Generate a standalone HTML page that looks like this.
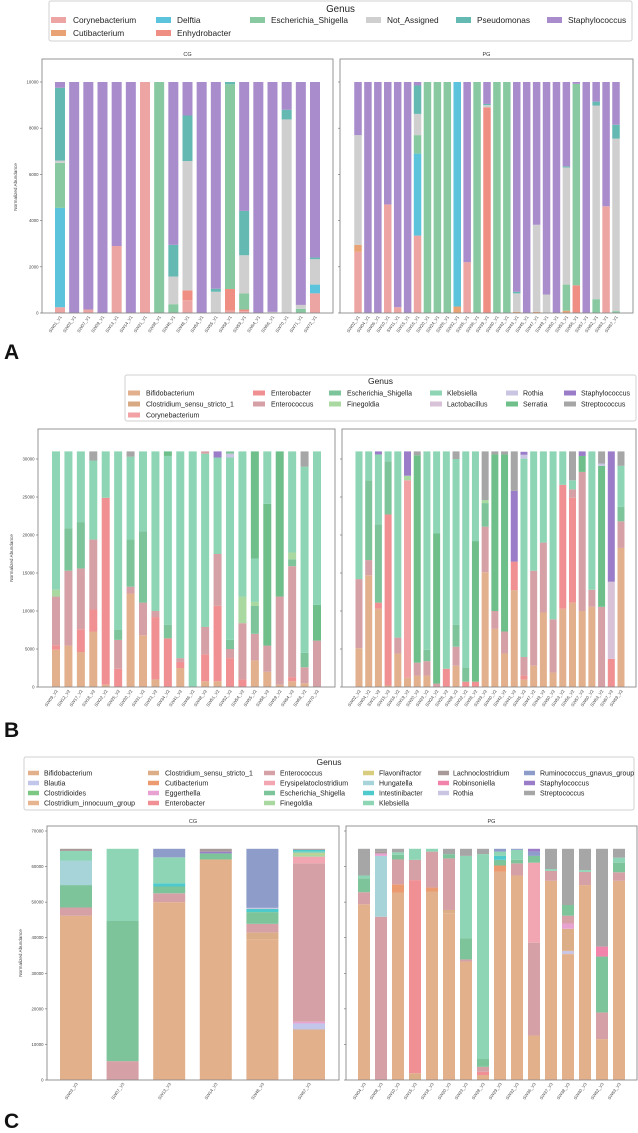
<!DOCTYPE html>
<html><head><meta charset="utf-8"><style>
html,body{margin:0;padding:0;background:#fff;}
svg{display:block;font-family:"Liberation Sans",sans-serif;}
</style></head><body>
<svg id="fig" width="638" height="1133" viewBox="0 0 638 1133" xmlns="http://www.w3.org/2000/svg"></svg>
<script>
// ---------- Panel A data (raw abundance, total 10000) ----------
const aGenera = ['Corynebacterium','Cutibacterium','Delftia','Enhydrobacter','Escherichia_Shigella','Not_Assigned','Pseudomonas','Staphylococcus'];
const aYTicks = [0,2000,4000,6000,8000,10000];
const aCgSamples = ['SW01_V1','SW03_V1','SW07_V1','SW09_V1','SW13_V1','SW14_V1','SW21_V1','SW38_V1','SW46_V1','SW48_V1','SW54_V1','SW55_V1','SW58_V1','SW59_V1','SW64_V1','SW66_V1','SW70_V1','SW71_V1','SW72_V1'];
const aCgValues = [
[[0,250],[2,4300],[4,1950],[5,100],[6,3150],[7,250]],
[[7,10000]],
[[0,150],[7,9850]],
[[7,10000]],
[[0,2900],[7,7100]],
[[7,10000]],
[[0,10000]],
[[4,10000]],
[[4,380],[5,1200],[6,1370],[7,7050]],
[[0,550],[3,430],[5,5600],[6,1970],[7,1450]],
[[7,10000]],
[[5,920],[6,130],[7,8950]],
[[0,100],[3,940],[4,8860],[6,100]],
[[0,80],[3,70],[4,700],[5,1650],[6,1920],[7,5580]],
[[7,10000]],
[[5,50],[7,9950]],
[[5,8380],[6,420],[7,1200]],
[[4,180],[5,170],[7,9650]],
[[0,850],[2,380],[5,1100],[6,70],[7,7600]]
];
const aPgSamples = ['SW02_V1','SW04_V1','SW06_V1','SW10_V1','SW11_V1','SW15_V1','SW16_V1','SW20_V1','SW24_V1','SW26_V1','SW32_V1','SW35_V1','SW36_V1','SW39_V1','SW40_V1','SW42_V1','SW43_V1','SW45_V1','SW47_V1','SW49_V1','SW50_V1','SW53_V1','SW56_V1','SW57_V1','SW62_V1','SW63_V1','SW67_V1'];
const aPgValues = [
[[0,2650],[1,300],[5,4750],[7,2300]],
[[7,10000]],
[[7,10000]],
[[0,4700],[7,5300]],
[[0,250],[7,9750]],
[[7,10000]],
[[0,3350],[2,3550],[4,800],[5,920],[6,1230],[7,150]],
[[4,10000]],
[[4,10000]],
[[4,10000]],
[[1,280],[2,9720]],
[[0,2200],[7,7800]],
[[4,10000]],
[[3,8900],[5,100],[6,50],[7,950]],
[[4,10000]],
[[4,10000]],
[[1,50],[5,800],[6,70],[7,9080]],
[[7,10000]],
[[1,50],[5,3770],[7,6180]],
[[5,800],[7,9200]],
[[7,10000]],
[[1,100],[4,1130],[5,5070],[6,50],[7,3650]],
[[3,1200],[4,8720],[7,80]],
[[7,10000]],
[[4,600],[5,8380],[6,170],[7,850]],
[[0,4620],[7,5380]],
[[4,80],[5,7470],[6,600],[7,1850]]
];

// ---------- Panel B data (raw abundance) ----------
const bGenera = ['Bifidobacterium','Clostridium_sensu_stricto_1','Corynebacterium','Enterobacter','Enterococcus','Escherichia_Shigella','Finegoldia','Klebsiella','Lactobacillus','Rothia','Serratia','Staphylococcus','Streptococcus'];
const bYTicks = [0,5000,10000,15000,20000,25000,30000];
const bCgSamples = ['SW09_V2','SW12_V2','SW17_V2','SW18_V2','SW22_V2','SW25_V2','SW30_V2','SW31_V2','SW33_V2','SW34_V2','SW41_V2','SW46_V2','SW48_V2','SW51_V2','SW52_V2','SW54_V2','SW55_V2','SW58_V2','SW59_V2','SW64_V2','SW68_V2','SW70_V2'];
// values in thousands
const bCgValues = [
[[0,4.9],[3,0.6],[4,6.4],[6,0.9],[7,18.2]],
[[0,5.45],[4,9.85],[5,5.6],[7,10.1]],
[[0,4.6],[3,3.0],[4,8.0],[5,6.1],[7,9.3]],
[[0,7.3],[3,2.9],[4,9.2],[7,10.4],[12,1.2]],
[[0,0.3],[3,24.6],[7,6.1]],
[[3,2.4],[4,3.8],[5,1.3],[7,23.5]],
[[0,12.3],[4,0.9],[5,6.2],[7,10.9],[12,0.7]],
[[0,6.8],[4,4.3],[5,9.4],[7,10.5]],
[[0,1.0],[3,8.2],[4,0.8],[7,21.0]],
[[3,6.4],[5,1.8],[7,22.2],[10,0.6]],
[[0,2.5],[3,0.8],[4,0.5],[7,27.2]],
[[7,31]],
[[0,0.75],[3,3.55],[4,3.6],[7,22.8],[4,0.3]],
[[0,0.75],[3,9.95],[4,6.8],[7,12.7],[11,0.8]],
[[3,3.8],[4,1.2],[5,1.2],[7,24.0],[9,0.5],[5,0.3]],
[[3,1.0],[4,7.4],[6,3.5],[7,19.1]],
[[0,3.5],[4,3.5],[5,3.7],[6,0.5],[7,5.7],[10,14.1]],
[[0,2.0],[4,3.45],[10,18.65],[7,6.9]],
[[0,0.3],[4,11.6],[10,19.1]],
[[0,0.75],[3,0.55],[4,14.6],[5,0.9],[6,0.9],[7,13.3]],
[[0,0.5],[4,2.1],[5,1.9],[7,24.5],[12,2.0]],
[[4,6.1],[10,4.7],[7,20.2]]
];
const bPgSamples = ['SW02_V2','SW04_V2','SW11_V2','SW15_V2','SW16_V2','SW19_V2','SW20_V2','SW23_V2','SW24_V2','SW26_V2','SW28_V2','SW32_V2','SW38_V2','SW39_V2','SW40_V2','SW42_V2','SW43_V2','SW45_V2','SW47_V2','SW49_V2','SW50_V2','SW53_V2','SW56_V2','SW57_V2','SW60_V2','SW63_V2','SW67_V2','SW69_V2'];
const bPgValues = [
[[0,5.1],[4,9.1],[7,16.8]],
[[0,14.7],[4,2.0],[5,10.5],[7,3.8]],
[[0,10.3],[3,0.8],[5,10.3],[7,9.2],[11,0.4]],
[[0,0.2],[3,22.5],[5,7.0],[7,1.3]],
[[0,4.4],[4,2.1],[7,24.5]],
[[0,1.2],[2,26.0],[6,0.6],[11,3.2]],
[[0,1.5],[4,1.7],[10,27.3],[12,0.5]],
[[0,1.5],[4,1.9],[5,1.5],[7,26.1]],
[[4,0.45],[10,19.75],[7,10.8]],
[[3,2.4],[7,28.6]],
[[0,2.8],[4,2.5],[5,2.9],[7,21.8],[12,1.0]],
[[3,0.7],[5,1.8],[7,28.5]],
[[3,0.7],[10,18.5],[7,11.8]],
[[0,15.1],[4,6.0],[5,3.1],[6,0.4],[12,6.4]],
[[0,7.65],[4,2.35],[10,20.6],[12,0.4]],
[[0,4.4],[4,2.9],[10,23.3],[12,0.4]],
[[0,12.75],[3,3.75],[11,9.3],[12,5.2]],
[[0,1.0],[3,0.5],[4,2.45],[7,26.1],[9,0.5],[11,0.4]],
[[0,2.8],[4,12.5],[7,15.7]],
[[0,9.8],[4,9.2],[7,12.0]],
[[0,1.9],[4,7.0],[7,22.1]],
[[0,10.3],[3,16.3],[7,4.4]],
[[0,11.1],[3,13.8],[4,1.1],[7,1.2],[12,3.8]],
[[0,10.0],[4,18.3],[10,2.1],[11,0.6]],
[[0,10.55],[4,2.25],[7,18.2]],
[[4,10.55],[10,18.55],[9,0.3],[12,1.6]],
[[3,3.7],[8,10.15],[11,17.15]],
[[0,18.3],[4,3.5],[5,1.9],[7,5.4],[12,1.9]]
];

// ---------- Panel C data ----------
const cGenera = ['Bifidobacterium','Blautia','Clostridioides','Clostridium_innocuum_group','Clostridium_sensu_stricto_1','Cutibacterium','Eggerthella','Enterobacter','Enterococcus','Erysipelatoclostridium','Escherichia_Shigella','Finegoldia','Flavonifractor','Hungatella','Intestinibacter','Klebsiella','Lachnoclostridium','Robinsoniella','Rothia','Ruminococcus_gnavus_group','Staphylococcus','Streptococcus'];
const cYTicks = [0,10000,20000,30000,40000,50000,60000,70000];
const cCgSamples = ['SW03_V3','SW07_V3','SW13_V3','SW14_V3','SW48_V3','SW67_V3'];
// values in thousands
const cCgValues = [
[[0,46.2],[8,2.3],[10,6.3],[13,6.9],[15,2.7],[16,0.6]],
[[8,5.3],[10,39.4],[15,20.3]],
[[0,50.0],[8,2.5],[10,1.9],[14,0.9],[15,7.3],[19,2.4]],
[[0,62.0],[10,1.7],[20,0.5],[16,0.8]],
[[0,39.6],[4,1.9],[8,2.4],[10,3.3],[14,0.9],[18,0.3],[19,16.6]],
[[0,14.2],[1,1.7],[6,0.5],[8,44.5],[9,1.9],[11,0.6],[12,0.3],[15,0.5],[14,0.5],[16,0.3]]
];
const cPgSamples = ['SW04_V3','SW08_V3','SW10_V3','SW15_V3','SW18_V3','SW20_V3','SW23_V3','SW28_V3','SW29_V3','SW32_V3','SW36_V3','SW37_V3','SW38_V3','SW40_V3','SW62_V3','SW63_V3'];
const cPgValues = [
[[0,49.4],[8,3.4],[10,3.9],[15,0.8],[21,7.5]],
[[8,45.9],[13,17.1],[6,0.7],[16,0.6],[21,0.7]],
[[0,52.7],[5,2.3],[8,7.0],[10,1.3],[15,0.7],[21,1.0]],
[[4,1.9],[7,54.3],[8,5.7],[15,3.1]],
[[0,53.0],[5,1.1],[8,10.1],[15,0.8]],
[[0,46.9],[4,0.9],[8,14.5],[10,1.2],[21,1.5]],
[[0,33.3],[8,0.6],[10,5.9],[15,23.2],[21,2.0]],
[[0,1.4],[7,0.9],[8,1.4],[10,2.2],[15,57.6],[21,1.5]],
[[0,58.6],[5,1.7],[10,1.6],[14,1.1],[15,1.2],[19,0.8]],
[[0,57.5],[8,3.4],[10,1.0],[15,2.8],[19,0.3]],
[[0,12.5],[8,26.1],[9,22.5],[10,1.9],[19,1.2],[20,0.8]],
[[0,56.0],[8,2.8],[15,0.5],[21,5.7]],
[[0,35.4],[18,0.9],[4,6.2],[6,1.5],[8,2.2],[10,3.0],[21,15.8]],
[[0,54.8],[8,3.7],[15,0.5],[21,6.0]],
[[0,11.5],[8,7.5],[10,15.7],[17,2.8],[21,27.5]],
[[0,56.0],[8,2.4],[10,2.7],[15,1.4],[21,2.5]]
];

// ---------- styles ----------
const aColors = ['#eda5a3','#e9a273','#5cc3dc','#ef8e82','#88c9a1','#cfcfcf','#64b9b2','#a88ccb'];
const bColors = ['#e2b08c','#d8aa84','#f2a2a4','#f09092','#d5a1a6','#7dc49b','#a9d8a0','#8dd5b5','#d8c2d8','#c9c5e2','#6fbf8b','#9b7cc8','#a6a6a6'];
const cColors = ['#e3b08c','#c2c6ea','#7cc883','#e6b48f','#dcae88','#ec9a6f','#e8a2d2','#f09094','#d5a1a6','#f1a6b1','#7dc49b','#a9d8a0','#d8cc7f','#a6d4d9','#4ec9cc','#8dd5b5','#a99a9a','#f283aa','#c9c5e2','#8d9cc9','#9b7cc8','#a6a6a6'];

const NS='http://www.w3.org/2000/svg';
const svg=document.getElementById('fig');
function mk(tag,attrs,parent){const e=document.createElementNS(NS,tag);for(const k in attrs)e.setAttribute(k,attrs[k]);(parent||svg).appendChild(e);return e;}

function legend(title,genera,colors,box,cols,fs,pw,ph){
  const g=mk('g',{});
  
  
  const r=mk('rect',{x:box[0],y:box[1],width:box[2]-box[0],height:box[3]-box[1],fill:'#fff',stroke:'#d0d0d0','stroke-width':1,rx:2},g);
  
  
  const t=mk('text',{x:(box[0]+box[2])/2,y:box[4],'font-size':fs+1.5,'text-anchor':'middle',fill:'#222'},g);
  t.textContent='Genus';
  
  
  let gi=0;
  cols.forEach(c=>{
    for(let k=0;k<c.n;k++){
      const y=box[5]+k*box[6];
      const e=mk('g',{},g);
      
      
      mk('rect',{x:c.x,y:y-ph/2,width:pw,height:ph,fill:colors[gi]},e);
      const tx=mk('text',{x:c.x+pw+c.gap,y:y+fs*0.36,'font-size':fs,fill:'#222'},e);
      tx.textContent=genera[gi];
      gi++;
    }
  });
}

// yScale takes raw abundance; valueUnit converts stored values to raw
function facet(name,box,samples,values,colors,yScale,ticks,showLabels,bw,title,genera,x0,x1,valueUnit){
  const g=mk('g',{});
  
  
  const [L,T,R,B]=box;
  if(title){const tt=mk('text',{x:(L+R)/2,y:T-3,'font-size':5.5,'text-anchor':'middle',fill:'#333'},g);tt.textContent=title;
    
    }
  const n=samples.length;
  const xScale=i=>x0+(n>1?i*(x1-x0)/(n-1):0);
  samples.forEach((s,i)=>{
    const cx=xScale(i);
    let cum=0;
    const bg=mk('g',{},g);
    
    
    values[i].forEach(([gk,v])=>{
      const raw=v*valueUnit;
      const y0=yScale(cum),y1=yScale(cum+raw);
      const r=mk('rect',{x:cx-bw/2,y:y1,width:bw,height:Math.max(0,y0-y1),fill:colors[gk]},bg);
      
      
      cum+=raw;
    });
    const lab=mk('text',{x:0,y:0,'font-size':4.3,'text-anchor':'end',fill:'#444',transform:`translate(${cx+2},${B+4}) rotate(-55)`},g);
    lab.textContent=s;
    
    
  });
  const fr=mk('rect',{x:L,y:T,width:R-L,height:B-T,fill:'none',stroke:'#8a8a8a','stroke-width':0.9},g);
  
  
  ticks.forEach(tv=>{
    const y=yScale(tv);
    mk('line',{x1:L-2,x2:L,y1:y,y2:y,stroke:'#666','stroke-width':0.6},g);
    if(showLabels){const tl=mk('text',{x:L-3.5,y:y+1.5,'font-size':4.3,'text-anchor':'end',fill:'#444'},g);tl.textContent=String(tv);
      
      }
  });
}
function ylabel(x,y){const t=mk('text',{x:0,y:0,'font-size':4.6,'text-anchor':'middle',fill:'#444',transform:`translate(${x},${y}) rotate(-90)`});t.textContent='Normalized Abundance';
  
  }
function letter(s,x,y){const t=mk('text',{x:x,y:y,'font-size':21,'font-weight':'bold',fill:'#111'});t.textContent=s;
  
  }

// Panel A
legend('A-genus',aGenera,aColors,[49,1,632,41,12,20,13],[{x:51,n:2,gap:7},{x:156,n:2,gap:6},{x:250,n:1,gap:6},{x:366,n:1,gap:6},{x:456,n:1,gap:6},{x:547,n:1,gap:6}],8.3,15,6);
const aY=v=>313-v/10000*231;
facet('a-cg-facet',[42,59,333,313],aCgSamples,aCgValues,aColors,aY,aYTicks,true,10,'CG',aGenera,60,315,1);
facet('a-pg-facet',[340,59,633,313],aPgSamples,aPgValues,aColors,aY,aYTicks,false,7.5,'PG',aGenera,358,616,1);
ylabel(17,187);
letter('A',4,359);

// Panel B
legend('B-genus',bGenera,bColors,[125,375,636,421,384,393,11],[{x:128,n:3,gap:6},{x:253,n:2,gap:6},{x:329,n:2,gap:6},{x:430,n:2,gap:5},{x:506,n:2,gap:5},{x:564,n:2,gap:5}],7,12,5);
const bY=v=>687-v/5000*38;
facet('b-cg-facet',[38,429,335,687],bCgSamples,bCgValues,bColors,bY,bYTicks,true,8,null,bGenera,56,317,1000);
facet('b-pg-facet',[342,429,636,687],bPgSamples,bPgValues,bColors,bY,bYTicks,false,7,null,bGenera,359,621,1000);
ylabel(13,558);
letter('B',4,737);

// Panel C
legend('C-genus',cGenera,cColors,[24,757,634,810,765,773,10],[{x:28,n:4,gap:5},{x:148,n:4,gap:6},{x:264,n:4,gap:5},{x:363,n:4,gap:5},{x:438,n:3,gap:4},{x:524,n:3,gap:5}],7,11,4.5);
const cY=v=>1080-v/10000*35.57;
facet('c-cg-facet',[47,826,339,1080],cCgSamples,cCgValues,cColors,cY,cYTicks,true,32,'CG',cGenera,76,309,1000);
facet('c-pg-facet',[346,826,637,1080],cPgSamples,cPgValues,cColors,cY,cYTicks,false,12,'PG',cGenera,364,619,1000);
ylabel(22,953);
letter('C',4,1128);
</script>
</body></html>
